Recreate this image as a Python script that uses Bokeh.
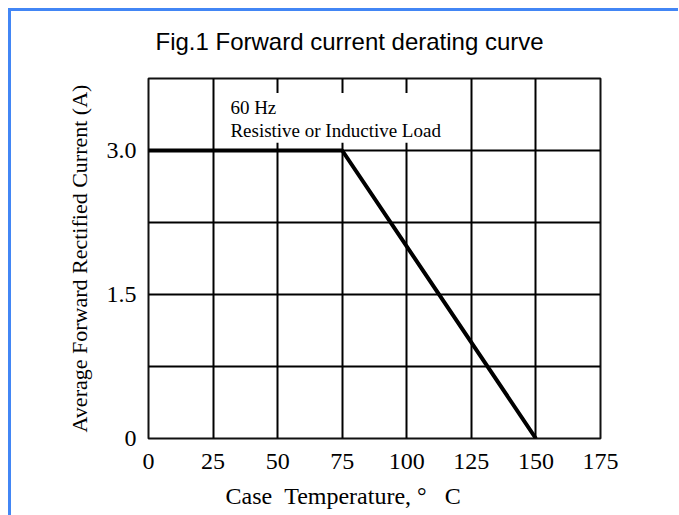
from bokeh.plotting import figure
from bokeh.embed import file_html
from bokeh.resources import INLINE
from bokeh.models import FixedTicker, Label, BoxAnnotation, Title

# data
temp_c = [0, 75, 150]
current_a = [3.0, 3.0, 0.0]
x_ticks = [0, 25, 50, 75, 100, 125, 150, 175]
y_ticks = [0, 1.5, 3.0]
y_tick_labels = ["0", "1.5", "3.0"]
y_minor = [0.75, 2.25, 3.75]

SERIF = "Liberation Serif"

p = figure(frame_width=452, frame_height=360,
           min_border_left=148, min_border_right=78,
           min_border_top=78, min_border_bottom=77,
           x_range=(0, 175), y_range=(0, 3.75),
           output_backend="svg", toolbar_location=None)
# blue page rule along the top and left, drawn behind the transparent margins
p.styles = {"box-shadow": "inset 8px 8px 0 0 #ffffff, inset 11px 11px 0 0 #4286f5"}
p.background_fill_color = "white"
p.border_fill_color = None
p.outline_line_color = "#111111"
p.outline_line_width = 2

p.title.text = "Fig.1 Forward current derating curve"
p.title.align = "left"
p.title.offset = 7
p.title.standoff = 48
p.title.text_font = "Liberation Sans"
p.title.text_font_size = "24px"
p.title.text_font_style = "normal"
p.title.text_color = "black"

# grids
p.xaxis.ticker = FixedTicker(ticks=x_ticks, minor_ticks=[])
p.yaxis.ticker = FixedTicker(ticks=y_ticks, minor_ticks=y_minor)
p.yaxis.major_label_overrides = {t: l for t, l in zip(y_ticks, y_tick_labels)}
for g in (p.xgrid, p.ygrid):
    g.grid_line_color = "black"
    g.grid_line_width = 2
    g.grid_line_alpha = 1
p.ygrid.minor_grid_line_color = "black"
p.ygrid.minor_grid_line_width = 2

for ax in (p.xaxis, p.yaxis):
    ax.axis_line_color = None
    ax.major_tick_out = 0
    ax.major_tick_in = 0
    ax.minor_tick_out = 0
    ax.minor_tick_in = 0
    ax.major_label_text_font = SERIF
    ax.major_label_text_font_size = "24px"
    ax.major_label_text_color = "black"
    ax.axis_label_text_font = SERIF
    ax.axis_label_text_font_style = "normal"
    ax.axis_label_text_color = "black"

p.xaxis.major_label_standoff = 15
p.yaxis.major_label_standoff = 12
p.yaxis.axis_label = "Average Forward Rectified Current (A)"
p.yaxis.axis_label_text_font_size = "22px"
p.yaxis.axis_label_standoff = 12

# x-axis label, set below the tick labels and slightly left of the frame centre
p.add_layout(Title(text="Case\u00a0\u00a0Temperature,\u00a0\u00b0\u00a0\u00a0\u00a0C",
                   align="left", offset=77, standoff=18,
                   text_font=SERIF, text_font_size="24px", text_font_style="normal",
                   text_color="black"), "below")

# white box behind the note
p.add_layout(BoxAnnotation(left=27, right=117, bottom=3.08, top=3.6,
                           fill_color="white", fill_alpha=1, line_color=None))

p.line(temp_c, current_a, line_color="black", line_width=4)

p.add_layout(Label(x=31.7, y=3.4475, text="60 Hz", text_font=SERIF,
                   text_font_size="19px", text_color="black", text_baseline="alphabetic"))
p.add_layout(Label(x=31.7, y=3.2085, text="Resistive or Inductive Load", text_font=SERIF,
                   text_font_size="19px", text_color="black", text_baseline="alphabetic"))

open("out.html", "w").write(file_html(p, INLINE))
